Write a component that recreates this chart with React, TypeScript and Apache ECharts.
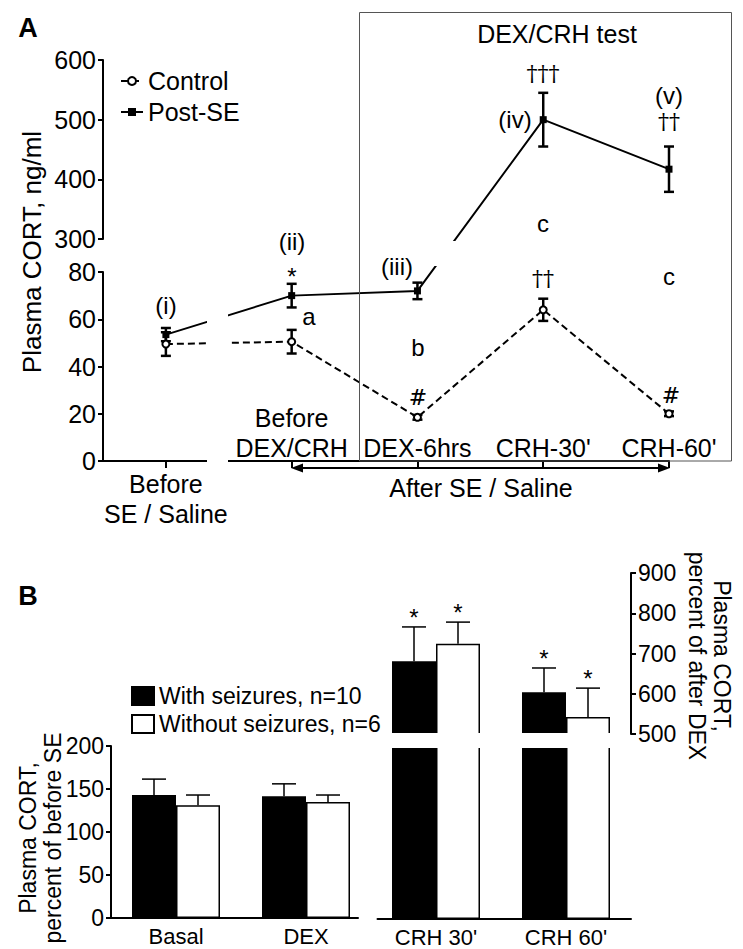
import React, { useEffect, useRef } from 'react';
import * as echarts from 'echarts';

// ---------------- Panel A data ----------------
const timepoints = ['Before\nSE / Saline', 'Before\nDEX/CRH', 'DEX-6hrs', "CRH-30'", "CRH-60'"];
const controlMean = [49.5, 50.5, 18.5, 64, 20];
const controlSem = [5, 5, 1, 4.7, 1];
const postSEMean = [53.5, 70, 72, 500, 417];
const postSESem = [2.8, 5, 3.5, 45, 38];
const lowerRange = [0, 80];
const lowerStep = 20;
const upperRange = [300, 600];
const upperStep = 100;
const lineNames = ['Control', 'Post-SE'];

// ---------------- Panel B data ----------------
const leftGroups = ['Basal', 'DEX'];
const rightGroups = ["CRH 30'", "CRH 60'"];
const barNames = ['With seizures, n=10', 'Without seizures, n=6'];
const withSeizLeft = [143, 141.5];
const withSeizLeftErr = [18.5, 14.5];
const withoutSeizLeft = [131, 135];
const withoutSeizLeftErr = [12, 8];
const withSeizRight = [681, 604];
const withSeizRightErr = [85, 60];
const withoutSeizRight = [724, 542];
const withoutSeizRightErr = [54, 72];
const withSeizRightSig = ['*', '*'];
const withoutSeizRightSig = ['*', '*'];
const leftRange = [0, 200];
const leftStep = 50;
const rightRange = [500, 900];
const rightStep = 100;

// ---------------- layout / style ----------------
const FONT = '"Liberation Sans", Arial, Helvetica, sans-serif';
const SERIF = '"DejaVu Serif", "Liberation Serif", serif';
const AX_L = 103;
const AX_W = 566;
const UP_TOP = 60;
const UP_BOT = 239;
const LOW_TOP = 272;
const LOW_BOT = 461;
const V_MAX = LOW_BOT - UP_TOP;
const BAR_W = 44;

// broken-axis mapping (value -> position on the continuous data axis of panel A)
const brk = (v: number) =>
  v <= lowerRange[1]
    ? ((v - lowerRange[0]) / (lowerRange[1] - lowerRange[0])) * (LOW_BOT - LOW_TOP)
    : LOW_BOT - UP_BOT + ((v - upperRange[0]) / (upperRange[1] - upperRange[0])) * (UP_BOT - UP_TOP);

const axisLineStyle = { color: '#000', width: 2 };

const errA = (params: any, api: any) => {
  const x = api.value(0);
  const lo = api.coord([x, api.value(1)]);
  const hi = api.coord([x, api.value(2)]);
  const c = 5;
  const st = { stroke: '#000', lineWidth: 2.5 };
  return {
    type: 'group',
    children: [
      { type: 'line', shape: { x1: lo[0], y1: lo[1], x2: hi[0], y2: hi[1] }, style: st },
      { type: 'line', shape: { x1: lo[0] - c, y1: lo[1], x2: lo[0] + c, y2: lo[1] }, style: st },
      { type: 'line', shape: { x1: hi[0] - c, y1: hi[1], x2: hi[0] + c, y2: hi[1] }, style: st },
    ],
  };
};

const errB = (sign: number, sig: string[] | null) => (params: any, api: any) => {
  const i = api.value(0);
  const v = api.value(1);
  const e = api.value(2);
  const base = api.coord([i, v]);
  const top = api.coord([i, v + e]);
  const x = base[0] + (sign * BAR_W) / 2;
  const st = { stroke: '#000', lineWidth: 1.5 };
  const children: any[] = [
    { type: 'line', shape: { x1: x, y1: base[1], x2: x, y2: top[1] }, style: st },
    { type: 'line', shape: { x1: x - 12, y1: top[1], x2: x + 12, y2: top[1] }, style: st },
  ];
  if (sig && sig[Math.round(i)]) {
    children.push({
      type: 'text',
      style: {
        text: sig[Math.round(i)],
        x,
        y: top[1] - 9.5,
        align: 'center',
        verticalAlign: 'middle',
        fontSize: 24,
        fontFamily: FONT,
        fill: '#000',
      },
    });
  }
  return { type: 'group', children };
};

const bar = (grid: number, name: string, vals: number[], fill: string) => ({
  type: 'bar',
  name,
  xAxisIndex: grid,
  yAxisIndex: grid,
  data: vals.map((v, i) => [i, v]),
  barWidth: BAR_W,
  barGap: '0%',
  clip: true,
  silent: true,
  itemStyle: { color: fill, borderColor: '#000', borderWidth: 1.5 },
});

const errSeries = (grid: number, vals: number[], errs: number[], sign: number, sig: string[] | null) => ({
  type: 'custom',
  xAxisIndex: grid,
  yAxisIndex: grid,
  silent: true,
  z: 5,
  renderItem: errB(sign, sig),
  data: vals.map((v, i) => [i, v, errs[i]]),
});

const txt = (x: number, y: number, text: string, size = 24, family = FONT, extra: any = {}) => ({
  type: 'text',
  x,
  y,
  z: 60,
  ...extra,
  style: {
    text,
    fontSize: size,
    fontFamily: family,
    fill: '#000',
    align: 'center',
    verticalAlign: 'middle',
    ...(extra.style || {}),
  },
});

const baseY = (grid: number, range: number[], step: number, fontSize: number, extra: any = {}) => ({
  gridIndex: grid,
  type: 'value',
  min: range[0],
  max: range[1],
  interval: step,
  axisLine: { show: true, onZero: false, lineStyle: axisLineStyle },
  axisTick: { show: true, length: 5, lineStyle: axisLineStyle },
  axisLabel: { fontSize, margin: 7, color: '#000', fontFamily: FONT },
  splitLine: { show: false },
  ...extra,
});

function buildOption() {
  return {
    animation: false,
    backgroundColor: '#fff',
    textStyle: { fontFamily: FONT },
    grid: [
      { left: AX_L, top: LOW_TOP, width: AX_W, height: LOW_BOT - LOW_TOP, outerBoundsMode: 'none' },
      { left: AX_L, top: UP_TOP, width: AX_W, height: UP_BOT - UP_TOP, outerBoundsMode: 'none' },
      { left: AX_L, top: UP_TOP, width: AX_W, height: V_MAX, outerBoundsMode: 'none' },
      { left: 111, top: 746, width: 247, height: 172, outerBoundsMode: 'none' },
      { left: 377.5, top: 747, width: 253.5, height: 172, outerBoundsMode: 'none' },
      { left: 377.5, top: 573, width: 253.5, height: 161, outerBoundsMode: 'none' },
    ],
    legend: [
      {
        data: lineNames,
        orient: 'vertical',
        left: 115,
        top: 62,
        itemWidth: 22,
        itemHeight: 10,
        itemGap: 3,
        selectedMode: false,
        textStyle: { fontSize: 25, lineHeight: 28, color: '#000', fontFamily: FONT },
      },
      {
        data: barNames,
        orient: 'vertical',
        icon: 'rect',
        left: 126,
        top: 679,
        itemWidth: 22,
        itemHeight: 18,
        itemGap: 4,
        selectedMode: false,
        textStyle: { fontSize: 23, lineHeight: 24, color: '#000', fontFamily: FONT },
      },
    ],
    xAxis: [
      {
        gridIndex: 0,
        type: 'value',
        min: -0.5,
        max: timepoints.length - 1,
        axisLine: { show: true, onZero: false, lineStyle: axisLineStyle },
        axisTick: { show: true, customValues: timepoints.map((_, i) => i), length: 7, lineStyle: axisLineStyle },
        axisLabel: {
          customValues: [0],
          formatter: (v: number) => timepoints[Math.round(v)],
          fontSize: 25,
          lineHeight: 30,
          margin: 8,
          color: '#000',
          fontFamily: FONT,
        },
        splitLine: { show: false },
      },
      { gridIndex: 1, type: 'value', min: -0.5, max: timepoints.length - 1, show: false },
      {
        gridIndex: 2,
        type: 'value',
        min: -0.5,
        max: timepoints.length - 1,
        axisLine: { show: false, onZero: false },
        axisTick: { show: false },
        splitLine: { show: false },
        axisLabel: {
          inside: true,
          customValues: timepoints.map((_, i) => i).slice(1),
          formatter: (v: number) => timepoints[Math.round(v)],
          fontSize: 25,
          lineHeight: 30,
          margin: -2,
          color: '#000',
          fontFamily: FONT,
        },
      },
      {
        gridIndex: 3,
        type: 'value',
        min: -0.5,
        max: 1.4,
        axisLine: { show: true, onZero: false, lineStyle: axisLineStyle },
        axisTick: { show: false },
        splitLine: { show: false },
        axisLabel: {
          customValues: [0, 1],
          formatter: (v: number) => leftGroups[Math.round(v)],
          fontSize: 22,
          margin: 7,
          color: '#000',
          fontFamily: FONT,
        },
      },
      {
        gridIndex: 4,
        type: 'value',
        min: -0.45,
        max: 1.5,
        axisLine: { show: true, onZero: false, lineStyle: axisLineStyle },
        axisTick: { show: false },
        splitLine: { show: false },
        axisLabel: {
          customValues: [0, 1],
          formatter: (v: number) => rightGroups[Math.round(v)],
          fontSize: 22,
          margin: 7,
          color: '#000',
          fontFamily: FONT,
        },
      },
      { gridIndex: 5, type: 'value', min: -0.45, max: 1.5, show: false },
    ],
    yAxis: [
      baseY(0, lowerRange, lowerStep, 25),
      baseY(1, upperRange, upperStep, 25),
      { gridIndex: 2, type: 'value', min: 0, max: V_MAX, show: false },
      baseY(3, leftRange, leftStep, 23),
      { gridIndex: 4, type: 'value', min: leftRange[0], max: leftRange[1], show: false },
      baseY(5, rightRange, rightStep, 23, { position: 'right' }),
    ],
    series: [
      {
        type: 'custom',
        xAxisIndex: 2,
        yAxisIndex: 2,
        silent: true,
        z: 3,
        renderItem: errA,
        data: controlMean.map((m, i) => [i, brk(m - controlSem[i]), brk(m + controlSem[i])]),
      },
      {
        type: 'custom',
        xAxisIndex: 2,
        yAxisIndex: 2,
        silent: true,
        z: 3,
        renderItem: errA,
        data: postSEMean.map((m, i) => [i, brk(m - postSESem[i]), brk(m + postSESem[i])]),
      },
      {
        type: 'line',
        name: lineNames[0],
        xAxisIndex: 2,
        yAxisIndex: 2,
        z: 4,
        data: controlMean.map((m, i) => [i, brk(m)]),
        symbol: 'emptyCircle',
        symbolSize: 7,
        lineStyle: { color: '#000', width: 2, type: [7, 4] },
        itemStyle: { color: '#000', borderWidth: 1.5 },
      },
      {
        type: 'line',
        name: lineNames[1],
        xAxisIndex: 2,
        yAxisIndex: 2,
        z: 4,
        data: postSEMean.map((m, i) => [i, brk(m)]),
        symbol: 'rect',
        symbolSize: 7,
        lineStyle: { color: '#000', width: 2 },
        itemStyle: { color: '#000' },
      },
      bar(3, barNames[0], withSeizLeft, '#000'),
      bar(3, barNames[1], withoutSeizLeft, '#fff'),
      bar(4, barNames[0], withSeizRight, '#000'),
      bar(4, barNames[1], withoutSeizRight, '#fff'),
      bar(5, barNames[0], withSeizRight, '#000'),
      bar(5, barNames[1], withoutSeizRight, '#fff'),
      errSeries(3, withSeizLeft, withSeizLeftErr, -1, null),
      errSeries(3, withoutSeizLeft, withoutSeizLeftErr, 1, null),
      errSeries(5, withSeizRight, withSeizRightErr, -1, withSeizRightSig),
      errSeries(5, withoutSeizRight, withoutSeizRightErr, 1, withoutSeizRightSig),
    ],
    graphic: {
      elements: [
        // axis-break covers
        { type: 'rect', z: 50, shape: { x: 207, y: 282, width: 21, height: 190 }, style: { fill: '#fff' } },
        { type: 'rect', z: 50, shape: { x: 420, y: 241, width: 60, height: 25 }, style: { fill: '#fff' } },
        { type: 'rect', z: 50, shape: { x: 380, y: 733, width: 232, height: 15 }, style: { fill: '#fff' } },
        // DEX/CRH test box
        {
          type: 'rect',
          z: 55,
          shape: { x: 359.5, y: 12.5, width: 372, height: 448.5 },
          style: { fill: 'none', stroke: '#555', lineWidth: 1 },
        },
        // After SE arrow
        { type: 'line', z: 55, shape: { x1: 296, y1: 468, x2: 665, y2: 468 }, style: { stroke: '#000', lineWidth: 2 } },
        { type: 'polygon', z: 55, shape: { points: [[291, 468], [303, 463.5], [303, 472.5]] }, style: { fill: '#000' } },
        { type: 'polygon', z: 55, shape: { points: [[670, 468], [658, 463.5], [658, 472.5]] }, style: { fill: '#000' } },
        // panel letters
        txt(28, 28, 'A', 27, FONT, { style: { fontWeight: 'bold' } }),
        txt(28, 596, 'B', 27, FONT, { style: { fontWeight: 'bold' } }),
        // titles
        txt(32, 252, 'Plasma CORT, ng/ml', 26, FONT, { rotation: Math.PI / 2 }),
        txt(40, 838, 'Plasma CORT,\npercent of before SE', 23, FONT, { rotation: Math.PI / 2, style: { lineHeight: 25 } }),
        txt(709, 656, 'Plasma CORT,\npercent of after DEX', 23, FONT, { rotation: -Math.PI / 2, style: { lineHeight: 25 } }),
        txt(557, 34, 'DEX/CRH test', 25),
        txt(481, 488, 'After SE / Saline', 25),
        // annotations panel A
        txt(166, 305, '(i)', 24),
        txt(292, 241, '(ii)', 24),
        txt(292, 276.5, '*', 24),
        txt(309, 316, 'a', 24),
        txt(397, 266, '(iii)', 24),
        txt(418, 347, 'b', 24),
        txt(418, 397, '#', 22, SERIF),
        txt(543, 278, '††', 22, SERIF),
        txt(669, 276, 'c', 24),
        txt(671, 395, '#', 22, SERIF),
        txt(543, 223, 'c', 24),
        txt(543, 73, '†††', 22, SERIF),
        txt(515, 119, '(iv)', 24),
        txt(669, 95, '(v)', 24),
        txt(669, 121, '††', 22, SERIF),
      ],
    },
  };
}

export default function App() {
  const ref = useRef<HTMLDivElement>(null);
  useEffect(() => {
    document.body.style.margin = '0';
    if (!ref.current) return;
    const chart = echarts.init(ref.current, null, { renderer: 'svg' });
    chart.setOption(buildOption() as any);
    return () => chart.dispose();
  }, []);
  return <div ref={ref} style={{ position: 'absolute', left: 0, top: 0, width: 743, height: 949 }} />;
}
